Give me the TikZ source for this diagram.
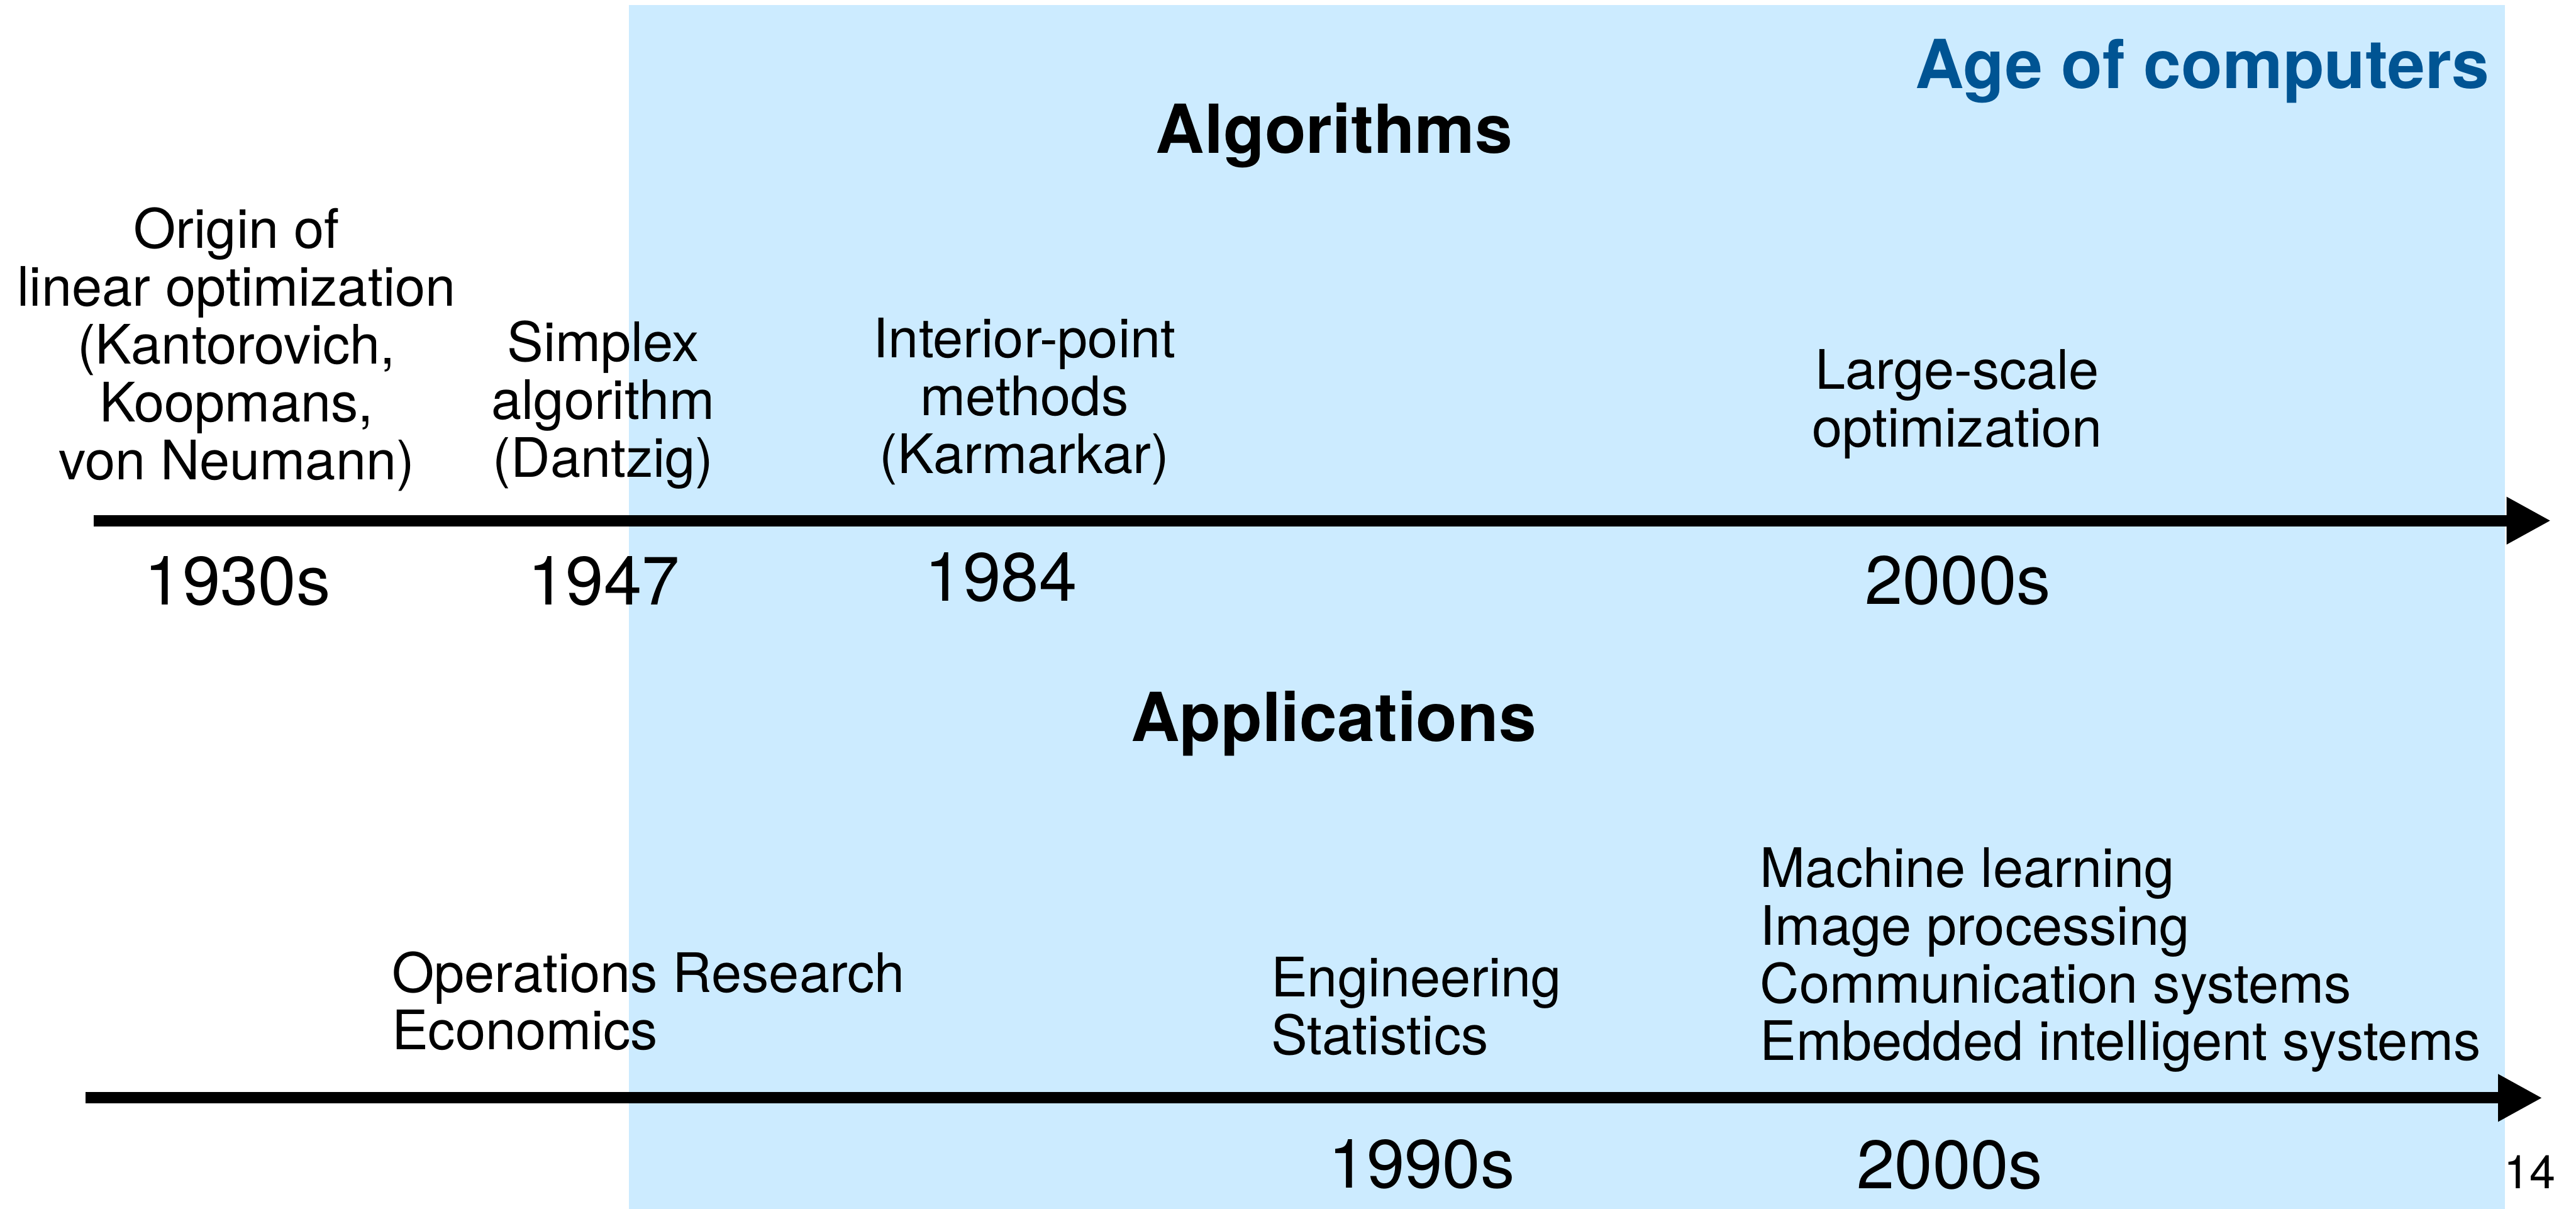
\documentclass[tikz,border=0pt]{standalone}
\usepackage{fontspec}
\setmainfont{TeX Gyre Heros}
\usepackage{tikz}
\usetikzlibrary{arrows.meta,positioning}
\definecolor{computerBlue}{RGB}{204,235,255}
\definecolor{titleBlue}{RGB}{0,84,147}

\begin{document}
\begin{tikzpicture}[
        every node/.style={inner sep=0pt, outer sep=0pt},
        label/.style={font=\fontsize{29}{30.8}\selectfont, align=center, anchor=base},
        listing/.style={font=\fontsize{29}{30.8}\selectfont, align=left, anchor=base west},
        year/.style={font=\fontsize{36.4}{40}\selectfont, anchor=base},
        heading/.style={font=\fontsize{36}{40}\selectfont\bfseries, anchor=base},
        timeline/.style={line width=0.21cm, -{Triangle[length=0.83cm, width=0.83cm]}}]
        \useasboundingbox (0,0) rectangle (48.25,-22.64);

        % Age of computers (shaded)
        \fill[computerBlue] (11.78,-0.09) rectangle (46.92,-22.64);
        \node[heading, anchor=base east, text=titleBlue] (age) at (46.63,-1.65) {Age of computers};

        % Algorithms (top)
        \node[heading] (algtitle) at (24.99,-2.87) {Algorithms};
        \node[label] (origin) at (4.43,-8.98)
            {Origin of\\linear optimization\\(Kantorovich,\\Koopmans,\\von Neumann)};
        \node[label] (simplex) at (11.30,-8.93) {Simplex\\algorithm\\(Dantzig)};
        \node[label] (interior) at (19.19,-8.86) {Interior-point\\methods\\(Karmarkar)};
        \node[label] (largescale) at (36.66,-8.37) {Large-scale\\optimization};

        \coordinate (algstart) at (1.75,-9.75);
        \coordinate (algend) at (47.78,-9.75);
        \draw[timeline] (algstart) -- (algend);

        \node[year] (y1930) at (4.45,-11.33) {1930s};
        \node[year] (y1947) at (11.31,-11.33) {1947};
        \node[year] (y1984) at (18.75,-11.26) {1984};
        \node[year] (y2000alg) at (36.67,-11.32) {2000s};

        % Applications (bottom)
        \node[heading] (apptitle) at (24.98,-13.88) {Applications};
        \node[listing] (ops) at (7.34,-19.66) {Operations Research\\Economics};
        \node[listing] (eng) at (23.81,-19.75) {Engineering\\Statistics};
        \node[listing] (ml) at (32.97,-19.86)
            {Machine learning\\Image processing\\Communication systems\\Embedded intelligent systems};

        \coordinate (appstart) at (1.60,-20.56);
        \coordinate (append) at (47.62,-20.56);
        \draw[timeline] (appstart) -- (append);

        \node[year] (y1990) at (26.63,-22.25) {1990s};
        \node[year] (y2000app) at (36.52,-22.26) {2000s};

        % page number
        \node[font=\fontsize{24.8}{28}\selectfont, anchor=base] (page) at (47.38,-22.26) {14};
    \end{tikzpicture}
\end{document}
